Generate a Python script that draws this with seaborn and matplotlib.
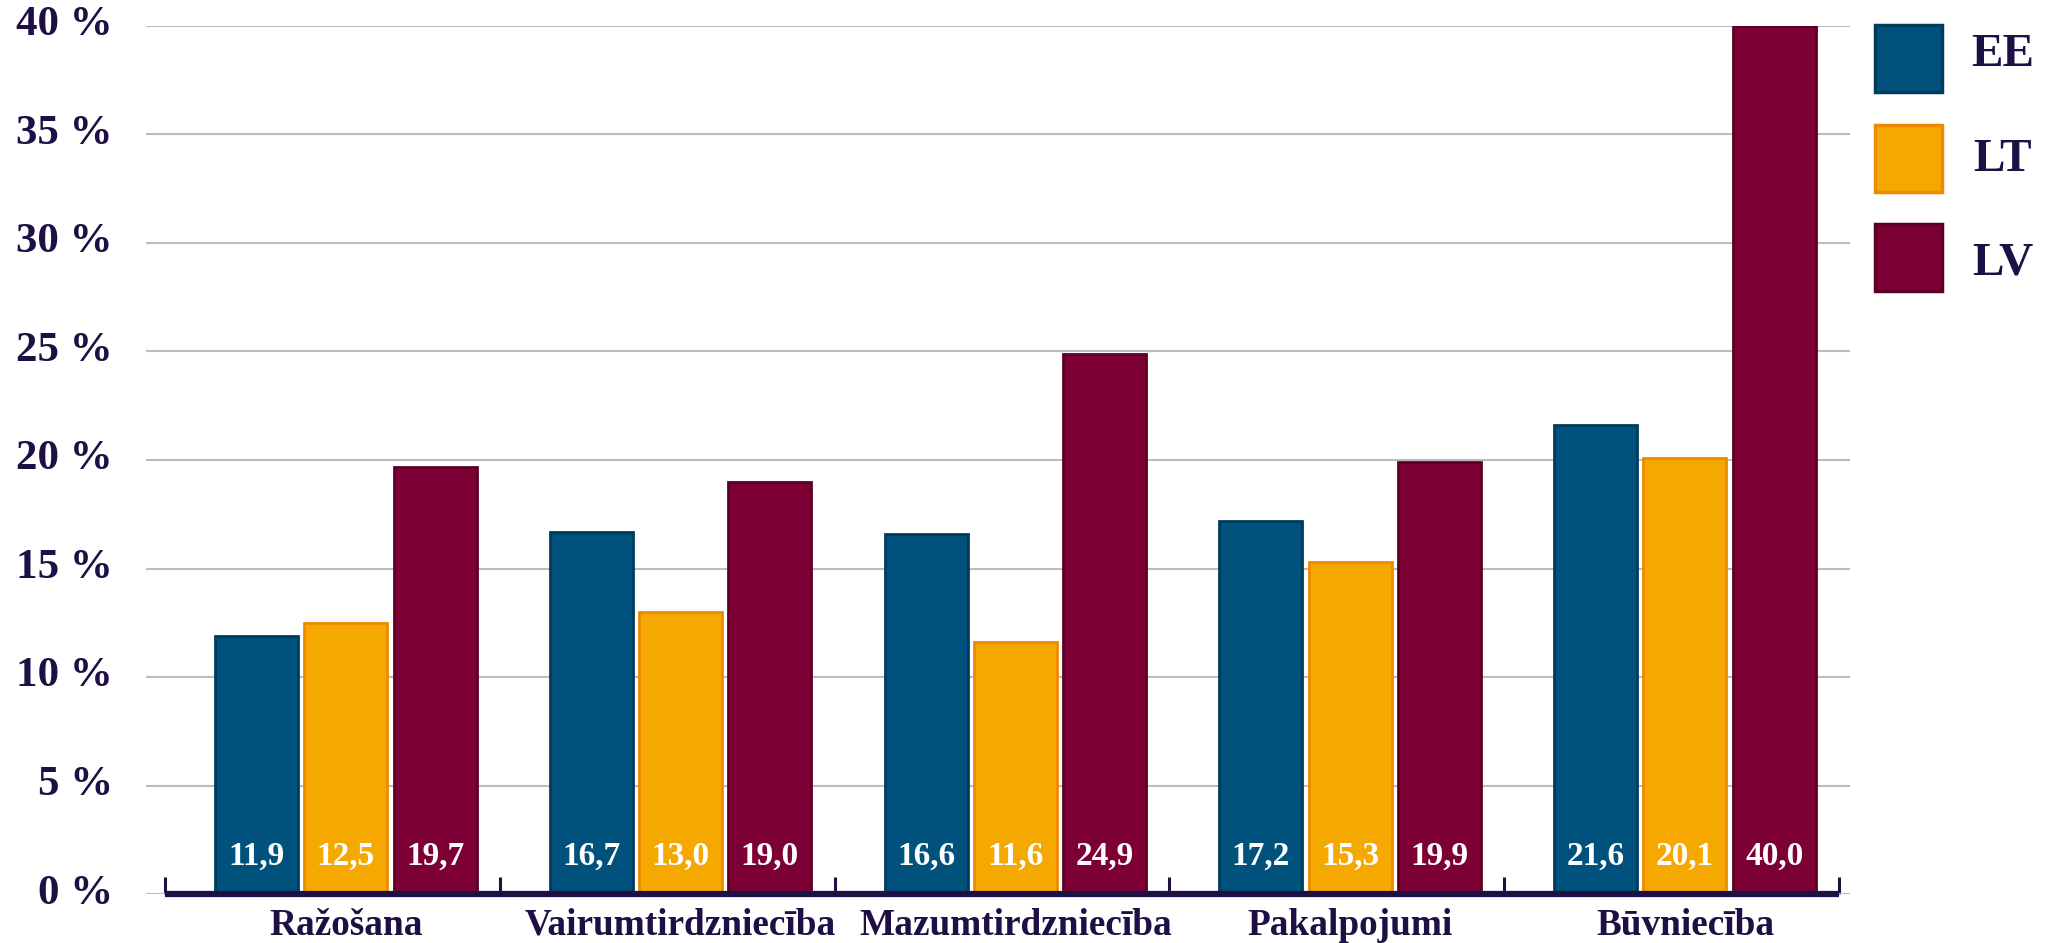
import matplotlib
matplotlib.use("Agg")
import matplotlib.pyplot as plt
from matplotlib.patches import Rectangle
from matplotlib.transforms import ScaledTranslation
import seaborn as sns
import pandas as pd

sectors = ["Ražošana", "Vairumtirdzniecība", "Mazumtirdzniecība", "Pakalpojumi", "Būvniecība"]
countries = ["EE", "LT", "LV"]
ee_values = [11.9, 16.7, 16.6, 17.2, 21.6]
lt_values = [12.5, 13.0, 11.6, 15.3, 20.1]
lv_values = [19.7, 19.0, 24.9, 19.9, 40.0]
y_ticks = [0, 5, 10, 15, 20, 25, 30, 35, 40]
y_tick_labels = [f"{t} %" for t in y_ticks]

fill_colors = ["#00527c", "#f5a800", "#7d0034"]
edge_colors = ["#003c5c", "#ef8a00", "#5c0025"]
text_color = "#1e1044"
grid_color = "#bdb9c6"

rows = []
for c, vals in zip(countries, [ee_values, lt_values, lv_values]):
    for s, v in zip(sectors, vals):
        rows.append({"sector": s, "country": c, "value": v})
df = pd.DataFrame(rows)

sns.set_theme(style="white")
plt.rcParams["font.family"] = ["Liberation Serif", "DejaVu Serif"]
plt.rcParams["font.weight"] = "bold"

W, H = 2054, 943
fig = plt.figure(figsize=(W / 100, H / 100), dpi=100)
ax = fig.add_axes([146 / W, (H - 894) / H, (1850 - 146) / W, (894 - 26) / H])

sns.barplot(data=df, x="sector", y="value", hue="country", order=sectors,
            hue_order=countries, palette=fill_colors, width=0.8, gap=0.07,
            saturation=1, legend=False, ax=ax, zorder=3)

for cont, ec in zip(ax.containers, edge_colors):
    for p in cont:
        p.set_edgecolor(ec)
        p.set_linewidth(2)
        p.set_zorder(3)

# value labels near base
for cont, vals in zip(ax.containers, [ee_values, lt_values, lv_values]):
    for p, v in zip(cont, vals):
        ax.annotate(f"{v:.1f}".replace(".", ","),
                    xy=(p.get_x() + p.get_width() / 2, 0),
                    xytext=(0, 21), textcoords="offset points",
                    ha="center", va="baseline", color="white",
                    fontsize=24, fontweight="bold", zorder=5)

ax.set_xlim(-0.597, 4.493)
ax.set_ylim(0, 40)
ax.set_yticks(y_ticks)
ax.set_yticklabels(y_tick_labels)
ax.set_xlabel("")
ax.set_ylabel("")

ax.yaxis.grid(True, color=grid_color, linewidth=1.5, zorder=0)
ax.xaxis.grid(False)
ax.set_axisbelow(True)

for side in ["top", "right", "left"]:
    ax.spines[side].set_visible(False)
bounds = [i - 0.54 for i in range(len(sectors) + 1)]
ax.spines["bottom"].set_color(text_color)
ax.spines["bottom"].set_linewidth(4.5)
ax.spines["bottom"].set_bounds(bounds[0], bounds[-1])
ax.spines["bottom"].set_zorder(4)
ax.spines["bottom"].set_capstyle("butt")

ax.set_xticks(bounds, minor=True)
ax.tick_params(axis="x", which="minor", bottom=True, direction="in", length=12.5,
               width=2.2, color=text_color)
ax.tick_params(axis="x", which="major", bottom=True, length=0, pad=10, labelsize=26.8,
               labelcolor=text_color)
ax.tick_params(axis="y", length=0, pad=24, labelsize=31, labelcolor=text_color)
for lab in ax.get_xticklabels() + ax.get_yticklabels():
    lab.set_fontweight("bold")
shift_up = ScaledTranslation(0, 5 / 100, fig.dpi_scale_trans)
for lab in ax.get_yticklabels():
    lab.set_transform(lab.get_transform() + shift_up)

# legend drawn as squares + labels in figure pixel space
sq_left, sq_size = 1875, 67
sq_tops = [25, 125, 224]
text_dy = [-3, 1, 6]
for name, fc, ec, top, dy in zip(countries, fill_colors, edge_colors, sq_tops, text_dy):
    fig.add_artist(Rectangle((sq_left / W, 1 - (top + sq_size) / H), sq_size / W, sq_size / H,
                             facecolor=fc, edgecolor=ec, linewidth=2.5,
                             transform=fig.transFigure))
    fig.text(2003 / W, 1 - (top + sq_size / 2 + dy) / H, name, ha="center", va="center",
             fontsize=34, fontweight="bold", color=text_color)

fig.savefig("out.png", dpi=100)
